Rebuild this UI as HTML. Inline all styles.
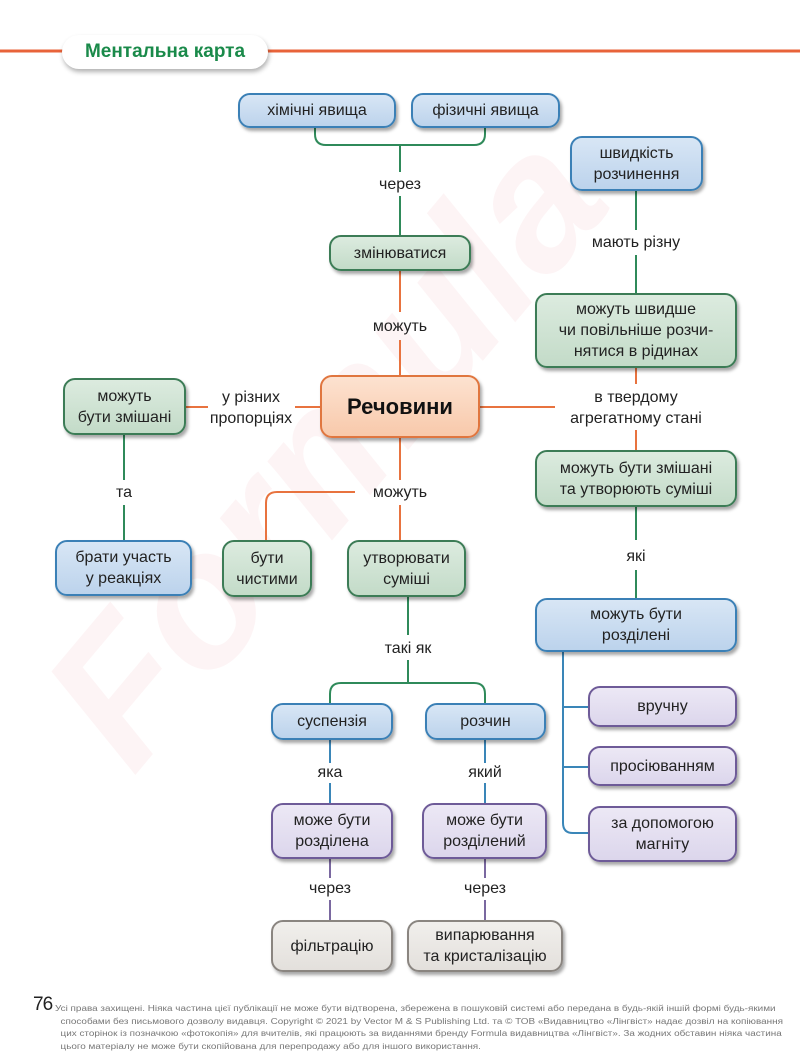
<!DOCTYPE html>
<html><head><meta charset="utf-8"><style>
*{margin:0;padding:0;box-sizing:border-box}
body{width:800px;height:1058px;background:#fff;position:relative;overflow:hidden;font-family:"Liberation Sans","DejaVu Sans",sans-serif;color:#222}
.n{position:absolute;border:2px solid;border-radius:12px;display:flex;align-items:center;justify-content:center;text-align:center;font-size:16px;line-height:21px;box-shadow:2px 3px 3px rgba(0,0,0,.35)}
.b{background:linear-gradient(#d8e6f5,#bcd3ec);border-color:#3b80b6}
.g{background:linear-gradient(#dcebdf,#c3dbc8);border-color:#3c7c56}
.p{background:linear-gradient(#ece8f5,#dcd6ec);border-color:#6e5b98}
.y{background:linear-gradient(#f1efec,#e3e0dc);border-color:#8a8580}
.o{background:linear-gradient(#fde2d0,#f8c9ab);border-color:#e0763f}
.l{position:absolute;font-size:16px;line-height:21px;text-align:center;transform:translateX(-50%);white-space:nowrap}
svg{position:absolute;left:0;top:0}
</style></head><body>
<div style="position:absolute;left:160px;top:600px;height:200px;font-size:190px;line-height:200px;font-weight:bold;font-style:italic;color:rgba(220,60,90,.06);transform:rotate(-50deg);transform-origin:left bottom;white-space:nowrap">Formula</div>
<svg width="800" height="1058" fill="none" stroke-width="2">
<line x1="0" y1="51" x2="800" y2="51" stroke="#e8633a" stroke-width="3"/>
<g stroke="#2f8a5a">
<path d="M315 128 V134 Q315 145 326 145 H474 Q485 145 485 134 V128"/>
<path d="M400 145 V172 M400 196 V235"/>
<path d="M124 435 V480 M124 505 V540"/>
<path d="M636 191 V230 M636 255 V293"/>
<path d="M636 507 V540 M636 570 V598"/>
<path d="M408 597 V635 M408 660 V683 M330 703 V694 Q330 683 341 683 H474 Q485 683 485 694 V703"/>
</g>
<g stroke="#e8733f">
<path d="M400 271 V312 M400 340 V375"/>
<path d="M320 407 H295 M208 407 H186"/>
<path d="M480 407 H555 M636 368 V384 M636 430 V450"/>
<path d="M400 438 V480 M400 505 V540 M355 492 H277 Q266 492 266 503 V540"/>
</g>
<g stroke="#3a86b8">
<path d="M563 652 V823 Q563 833 573 833 H590 M563 707 H590 M563 767 H590"/>
<path d="M330 740 V763 M330 783 V803 M485 740 V763 M485 783 V803"/>
</g>
<g stroke="#7a68a0">
<path d="M330 859 V878 M330 900 V920 M485 859 V878 M485 900 V920"/>
</g>
</svg>
<div style="position:absolute;left:62px;top:35px;width:206px;height:34px;background:#fff;border-radius:17px;box-shadow:1px 3px 5px rgba(0,0,0,.3);color:#1a8a4a;font-weight:bold;font-size:19px;line-height:34px;text-align:center">Ментальна карта</div>

<div class="n b" style="left:238px;top:93px;width:158px;height:35px">хімічні явища</div>
<div class="n b" style="left:411px;top:93px;width:149px;height:35px">фізичні явища</div>
<div class="l" style="left:400px;top:174px">через</div>
<div class="n g" style="left:329px;top:235px;width:142px;height:36px">змінюватися</div>
<div class="l" style="left:400px;top:316px">можуть</div>
<div class="n o" style="left:320px;top:375px;width:160px;height:63px;font-size:22px;font-weight:bold;color:#111">Речовини</div>
<div class="n g" style="left:63px;top:378px;width:123px;height:57px">можуть<br>бути змішані</div>
<div class="l" style="left:251px;top:387px">у різних<br>пропорціях</div>
<div class="l" style="left:124px;top:482px">та</div>
<div class="n b" style="left:55px;top:540px;width:137px;height:56px">брати участь<br>у реакціях</div>
<div class="n b" style="left:570px;top:136px;width:133px;height:55px">швидкість<br>розчинення</div>
<div class="l" style="left:636px;top:232px">мають різну</div>
<div class="n g" style="left:535px;top:293px;width:202px;height:75px">можуть швидше<br>чи повільніше розчи-<br>нятися в рідинах</div>
<div class="l" style="left:636px;top:387px">в твердому<br>агрегатному стані</div>
<div class="n g" style="left:535px;top:450px;width:202px;height:57px">можуть бути змішані<br>та утворюють суміші</div>
<div class="l" style="left:636px;top:546px">які</div>
<div class="n b" style="left:535px;top:598px;width:202px;height:54px">можуть бути<br>розділені</div>
<div class="n p" style="left:588px;top:686px;width:149px;height:41px">вручну</div>
<div class="n p" style="left:588px;top:746px;width:149px;height:40px">просіюванням</div>
<div class="n p" style="left:588px;top:806px;width:149px;height:56px">за допомогою<br>магніту</div>
<div class="l" style="left:400px;top:482px">можуть</div>
<div class="n g" style="left:222px;top:540px;width:90px;height:57px">бути<br>чистими</div>
<div class="n g" style="left:347px;top:540px;width:119px;height:57px">утворювати<br>суміші</div>
<div class="l" style="left:408px;top:638px">такі як</div>
<div class="n b" style="left:271px;top:703px;width:122px;height:37px">суспензія</div>
<div class="n b" style="left:425px;top:703px;width:121px;height:37px">розчин</div>
<div class="l" style="left:330px;top:762px">яка</div>
<div class="l" style="left:485px;top:762px">який</div>
<div class="n p" style="left:271px;top:803px;width:122px;height:56px">може бути<br>розділена</div>
<div class="n p" style="left:422px;top:803px;width:125px;height:56px">може бути<br>розділений</div>
<div class="l" style="left:330px;top:878px">через</div>
<div class="l" style="left:485px;top:878px">через</div>
<div class="n y" style="left:271px;top:920px;width:122px;height:52px">фільтрацію</div>
<div class="n y" style="left:407px;top:920px;width:156px;height:52px">випарювання<br>та кристалізацію</div>

<div style="position:absolute;left:33px;top:994px;font-size:19px;color:#222;letter-spacing:-1px">76</div>
<div style="position:absolute;left:55px;top:1003px;width:610px;font-size:8px;line-height:12.5px;color:#777;white-space:nowrap;transform:scaleX(1.24);transform-origin:left top">Усі права захищені. Ніяка частина цієї публікації не може бути відтворена, збережена в пошуковій системі або передана в будь-якій іншій формі будь-якими<br>&nbsp;&nbsp;способами без письмового дозволу видавця. Copyright © 2021 by Vector M &amp; S Publishing Ltd. та © ТОВ «Видавництво «Лінгвіст» надає дозвіл на копіювання<br>&nbsp;&nbsp;цих сторінок із позначкою «фотокопія» для вчителів, які працюють за виданнями бренду Formula видавництва «Лінгвіст». За жодних обставин ніяка частина<br>&nbsp;&nbsp;цього матеріалу не може бути скопійована для перепродажу або для іншого використання.</div>
</body></html>
